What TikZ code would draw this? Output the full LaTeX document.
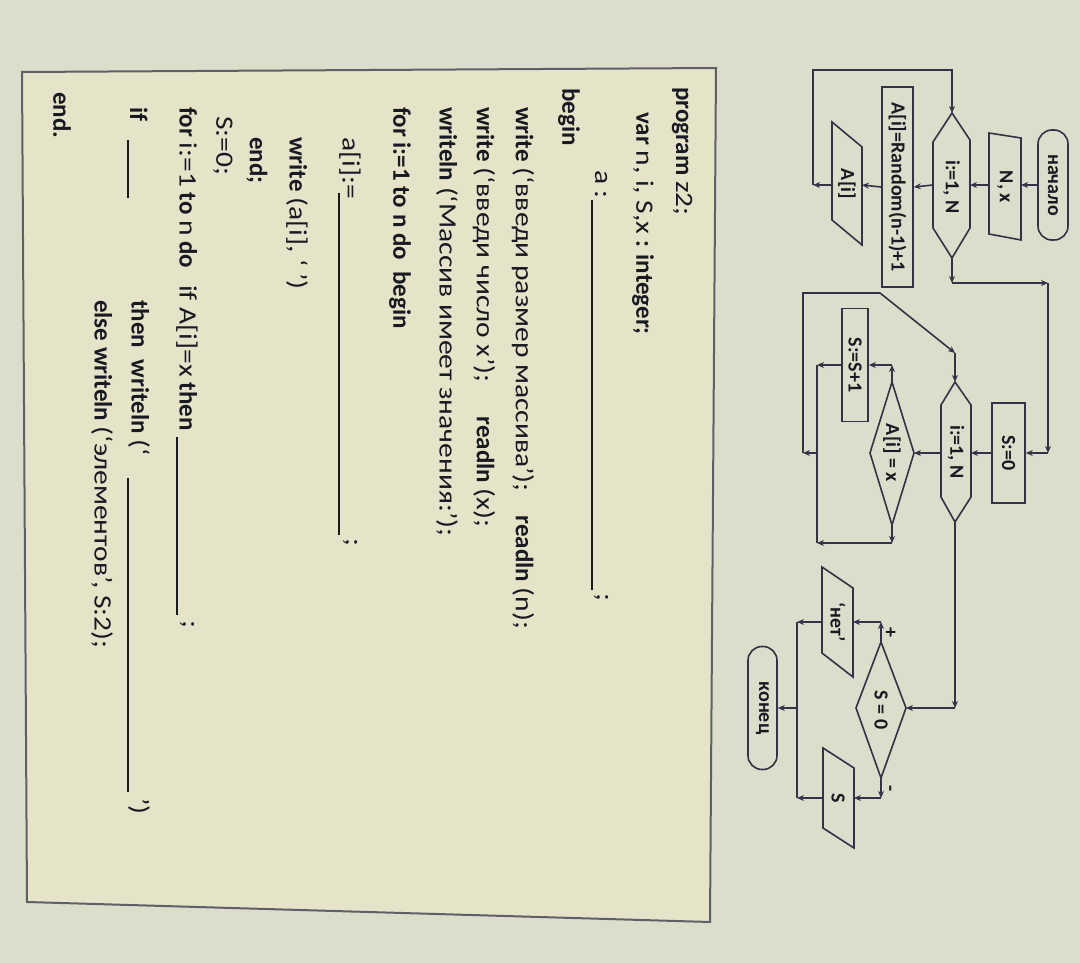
\documentclass[tikz,border=0pt]{standalone}
\usepackage{fontspec}
\setmainfont{Carlito}
\newfontfamily\rg{Carlito}[FakeStretch=1.18]
\usetikzlibrary{arrows.meta}
\definecolor{bg}{RGB}{220,221,203}
\definecolor{paper}{RGB}{229,228,200}
\definecolor{lc}{RGB}{50,50,72}
\definecolor{fr}{RGB}{95,95,105}
\definecolor{tc}{RGB}{25,25,35}
\tikzset{
  ln/.style={draw=lc, line width=1.6pt},
  arr/.style={ln, -{Stealth[length=7pt,width=6pt]}},
  fc/.style={font=\bfseries\fontsize{20}{22}\selectfont, text=tc, rotate=-90, inner sep=0pt},
  fbox/.style={fc, draw=lc, line width=1.6pt},
  code/.style={font=\fontsize{25}{28}\selectfont, text=tc, rotate=-90, anchor=west, inner sep=0pt},
  blank/.style={draw=tc, line width=1.3pt},
}
\begin{document}
\begin{tikzpicture}[x=1pt,y=-1pt]
\useasboundingbox (0,0) rectangle (1080,963);
\fill[bg] (0,0) rectangle (1080,963);
% code frame
\fill[paper] (22,72) -- (716,68) -- (710,922) -- (27,902) -- cycle;
\draw[fr, line width=2pt] (22,72) -- (716,68) -- (710,922) -- (27,902) -- cycle;

% ---------- code text ----------
\node[code] (l1) at (682,87) {\textbf{program} {\rg z2;}};
\node[code] (l2) at (643,112) {\textbf{var} {\rg n, i, S,x} \textbf{: integer;}};
\node[code] (l3) at (601,170) {\rg a :};
\draw[blank] (592,200) -- (592,590);
\node[code] (l3b) at (601,593) {\rg ;};
\node[code] (l4) at (569,88) {\textbf{begin}};
\node[code] (l5) at (523,107) {\textbf{write} {\rg (‘введи размер массива’);}\hspace{24pt}\textbf{readln} {\rg (n);}};
\node[code] (l6) at (484,107) {\textbf{write} {\rg (‘введи число x’);}\hspace{34pt}\textbf{readln} {\rg (x);}};
\node[code] (l7) at (447,107) {\textbf{writeln} {\rg (‘Массив имеет значения:’);}};
\node[code] (l8) at (400,107) {\textbf{for i:=1 to n do\ \ begin}};
\node[code] (l9) at (350,137) {\rg a[i]:=};
\draw[blank] (339,193) -- (339,535);
\node[code] (l9b) at (350,538) {\rg ;};
\node[code] (l10) at (297,137) {\textbf{write} {\rg (a[i], ‘ ’)}};
\node[code] (l11) at (257,137) {\textbf{end;}};
\node[code] (l12) at (223,116) {\rg S:=0;};
\node[code] (l13) at (187,107) {\textbf{for} {\rg i:=1} \textbf{to} {\rg n} \textbf{do}\ \ \ {\rg if A[i]=x} \textbf{then}};
\draw[blank] (177,437) -- (177,615);
\node[code] (l13b) at (187,620) {\rg ;};
\node[code] (l14) at (139,107) {\textbf{if}};
\draw[blank] (128,140) -- (128,198);
\node[code] (l14b) at (139,300) {\textbf{then\ \ writeln} {\rg (‘}};
\draw[blank] (128,478) -- (128,792);
\node[code] (l14c) at (139,798) {\rg ’)};
\node[code] (l15) at (102,300) {\textbf{else writeln} {\rg (‘элементов’, S:2);}};
\node[code] (l16) at (62,92) {\textbf{end.}};

% ---------- flowchart: first part ----------
\node[fbox, rounded corners=14pt, minimum width=110pt, minimum height=30pt] (start) at (1053,185) {начало};

\draw[ln] (989,133) -- (1021,138) -- (1021,240) -- (989,234) -- cycle;
\node[fc] (nx) at (1005,187) {N, x};
\coordinate (nxR) at (1021,185);
\coordinate (nxL) at (989,185);

\draw[ln] (952,113) -- (970,140) -- (970,228) -- (952,258) -- (933,228) -- (933,142) -- cycle;
\node[fc] (h1) at (951.5,187) {i:=1, N};
\coordinate (h1T) at (952,113);
\coordinate (h1B) at (952,258);
\coordinate (h1R) at (970,185);
\coordinate (h1L) at (933,185);

\node[fbox, minimum width=200pt, minimum height=31pt] (rnd) at (897.5,187) {A[i]=Random(n-1)+1};

\draw[ln] (832,122) -- (862,147) -- (862,245) -- (832,220) -- cycle;
\node[fc] (ai) at (847,184) {A[i]};
\coordinate (aiR) at (862,185);
\coordinate (aiL) at (832,185);

\coordinate (c1) at (813,185);
\coordinate (c2) at (813,70);
\coordinate (c3) at (952,70);
\coordinate (c4) at (952,283);
\coordinate (c5) at (1048,283);
\coordinate (c6) at (1048,453);

\draw[arr] (start.south) -- (nxR);
\draw[arr] (nxL) -- (h1R);
\draw[arr] (h1L) -- (rnd.north);
\draw[arr] (rnd.south) -- (aiR);
\draw[arr] (aiL) -- (c1);
\draw[arr] (c1) -- (c2) -- (c3) -- (h1T);
\draw[arr] (h1B) -- (c4);
\draw[arr] (c4) -- (c5);
\draw[arr] (c5) -- (c6);

% ---------- second part ----------
\node[fbox, minimum width=100pt, minimum height=33pt] (s0) at (1008.5,453) {S:=0};
\draw[arr] (c6) -- (s0.north);

\draw[ln] (955,382) -- (971,405) -- (971,497) -- (955,522) -- (941,497) -- (941,405) -- cycle;
\node[fc] (h2) at (956,452) {i:=1, N};
\coordinate (h2T) at (955,382);
\coordinate (h2B) at (955,522);
\coordinate (h2R) at (971,453);
\coordinate (h2L) at (941,453);
\draw[arr] (s0.south) -- (h2R);

\draw[ln] (892,382) -- (914,453) -- (892,525) -- (870,453) -- cycle;
\node[fc] (da) at (892,453) {A[i] = x};
\coordinate (daT) at (892,382);
\coordinate (daB) at (892,525);
\coordinate (daR) at (914,453);
\draw[arr] (h2L) -- (daR);

\node[fbox, minimum width=113pt, minimum height=26pt] (s1) at (855,365) {S:=S+1};
\coordinate (c7) at (892,365);
\coordinate (c8) at (817,365);
\coordinate (c9) at (817,543);
\coordinate (c10) at (892,543);
\coordinate (c11) at (817,453);
\coordinate (c12) at (803,453);
\coordinate (c13) at (803,293);
\coordinate (c14) at (880,293);
\coordinate (c15) at (955,353);
\draw[arr] (daT) -- (c7);
\draw[arr] (c7) -- (s1.north);
\draw[arr] (s1.south) -- (c8);
\draw[ln] (c8) -- (c9);
\draw[arr] (daB) -- (c10);
\draw[arr] (c10) -- (c9);
\draw[arr] (c11) -- (c12);
\draw[arr] (c12) -- (c13) -- (c14) -- (c15);
\draw[arr] (c15) -- (h2T);

% ---------- third part ----------
\draw[ln] (881,642) -- (906,708) -- (881,778) -- (856,708) -- cycle;
\node[fc] (ds) at (881,710) {S = 0};
\coordinate (dsT) at (881,642);
\coordinate (dsB) at (881,778);
\coordinate (dsR) at (906,708);
\coordinate (c16) at (955,708);
\draw[arr] (h2B) -- (c16);
\draw[arr] (c16) -- (dsR);

\draw[ln] (822,567) -- (853,588) -- (853,677) -- (822,653) -- cycle;
\node[fc] (net) at (838,622) {‘нет’};
\coordinate (netR) at (853,622);
\coordinate (netL) at (822,622);

\draw[ln] (823,748) -- (854,768) -- (854,848) -- (823,828) -- cycle;
\node[fc] (so) at (838,798) {S};
\coordinate (soR) at (854,798);
\coordinate (soL) at (823,798);

\coordinate (c17) at (881,622);
\coordinate (c18) at (881,798);
\coordinate (c19) at (797,622);
\coordinate (c20) at (797,798);
\coordinate (c21) at (797,708);
\draw[arr] (dsT) -- (c17);
\draw[arr] (c17) -- (netR);
\draw[arr] (dsB) -- (c18);
\draw[arr] (c18) -- (soR);
\node[fc] (plus) at (890,632) {+};
\node[fc] (minus) at (888,789) {-};

\node[fbox, rounded corners=14pt, minimum width=123pt, minimum height=29pt] (fin) at (762.5,708) {конец};
\draw[arr] (netL) -- (c19);
\draw[arr] (soL) -- (c20);
\draw[ln] (c19) -- (c20);
\draw[arr] (c21) -- (fin.north);
\end{tikzpicture}
\end{document}
